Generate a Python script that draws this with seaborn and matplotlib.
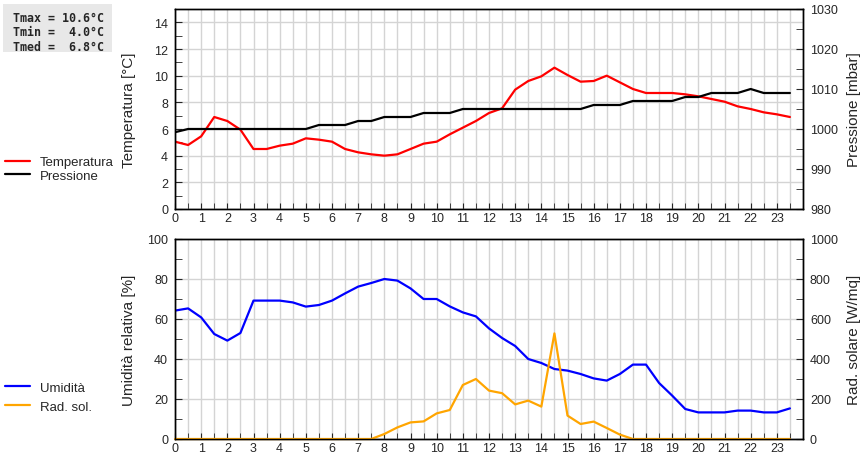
import numpy as np
import pandas as pd
import matplotlib
matplotlib.use('Agg')
import matplotlib.pyplot as plt
from matplotlib.ticker import MultipleLocator
from matplotlib.patches import Rectangle
import seaborn as sns

# half-hourly readings
hours = np.arange(0, 24, 0.5)

temperatura = [5.05, 4.8, 5.45, 6.9, 6.6, 5.95, 4.5, 4.5, 4.75, 4.9,
               5.3, 5.2, 5.05, 4.5, 4.25, 4.1, 4.0, 4.1, 4.5, 4.9,
               5.05, 5.6, 6.1, 6.6, 7.2, 7.55, 8.95, 9.6, 9.95, 10.6,
               10.05, 9.55, 9.6, 10.0, 9.5, 9.0, 8.7, 8.7, 8.7, 8.6,
               8.45, 8.25, 8.05, 7.7, 7.5, 7.25, 7.1, 6.9]

pressione = [999.2, 1000, 1000, 1000, 1000, 1000, 1000, 1000, 1000, 1000,
             1000, 1001, 1001, 1001, 1002, 1002, 1003, 1003, 1003, 1004,
             1004, 1004, 1005, 1005, 1005, 1005, 1005, 1005, 1005, 1005,
             1005, 1005, 1006, 1006, 1006, 1007, 1007, 1007, 1007, 1008,
             1008, 1009, 1009, 1009, 1010, 1009, 1009, 1009]

umidita = [64.2, 65.3, 60.8, 52.5, 49.2, 53, 69.2, 69.2, 69.2, 68.3,
           66.2, 67, 69.2, 72.8, 76.2, 78, 80, 79.2, 75.3, 70,
           70, 66.3, 63.3, 61.3, 55.3, 50.5, 46.5, 40, 38, 35,
           34.2, 32.5, 30.3, 29.2, 32.5, 37.2, 37.2, 28, 21.7, 15,
           13.3, 13.3, 13.3, 14.2, 14.2, 13.3, 13.3, 15.3]

radiazione = [0, 0, 0, 0, 0, 0, 0, 0, 0, 0, 0, 0, 0, 0, 0, 0,
              25, 58, 83, 88, 128, 145, 270, 300, 242, 229,
              173, 192, 162, 528, 117, 75, 87, 55, 22, 0,
              0, 0, 0, 0, 0, 0, 0, 0, 0, 0, 0, 0]

stats_text = "Tmax = 10.6°C\nTmin =  4.0°C\nTmed =  6.8°C"

sns.set_style("white")
plt.rcParams['font.family'] = ['Liberation Sans', 'DejaVu Sans']

fig = plt.figure(figsize=(8.6, 4.6), dpi=100)
ax1 = fig.add_axes([175/860, 1 - 210/460, 628/860, 200/460])
ax2 = fig.add_axes([175/860, 1 - 440/460, 628/860, 200/460])
tw1 = ax1.twinx()
tw2 = ax2.twinx()

grid_col = '#d4d4d4'


def style_axes(ax, tw, ylim, ymaj, ymin, tlim, tmaj, tmin, lab_l, lab_r):
    ax.set_xlim(0, 24)
    ax.set_ylim(*ylim)
    tw.set_ylim(*tlim)
    ax.set_xticks(np.arange(0, 24, 1))
    ax.xaxis.set_minor_locator(MultipleLocator(0.5))
    ax.yaxis.set_major_locator(MultipleLocator(ymaj))
    ax.yaxis.set_minor_locator(MultipleLocator(ymin))
    tw.yaxis.set_major_locator(MultipleLocator(tmaj))
    tw.yaxis.set_minor_locator(MultipleLocator(tmin))
    ax.set_axisbelow(True)
    ax.grid(True, which='both', axis='x', color=grid_col, linewidth=1)
    ax.grid(True, which='major', axis='y', color=grid_col, linewidth=1)
    tw.grid(False)
    ax.tick_params(axis='x', which='both', direction='in', length=4,
                   labelsize=9, pad=2, bottom=True, top=False)
    ax.tick_params(axis='y', which='both', direction='in', length=5,
                   labelsize=9, pad=5, left=True, right=False)
    tw.tick_params(axis='y', which='both', direction='in', length=5,
                   labelsize=9, pad=5, right=True, left=False)
    for a in (ax, tw):
        for s in a.spines.values():
            s.set_color('black')
            s.set_linewidth(1)
    ax.set_xlabel('')
    ax.set_ylabel(lab_l, fontsize=11)
    tw.set_ylabel(lab_r, fontsize=11)
    ax.yaxis.set_label_coords(-0.062, 0.5)
    tw.yaxis.set_label_coords(1.07, 0.5)


# top panel: temperature and pressure
sns.lineplot(x=hours, y=temperatura, ax=ax1, color='#ff0000', linewidth=1.6,
             label='Temperatura', legend=False)
sns.lineplot(x=hours, y=pressione, ax=tw1, color='black', linewidth=1.6,
             label='Pressione', legend=False)
style_axes(ax1, tw1, (0, 15), 2, 1, (980, 1030), 10, 5,
           'Temperatura [°C]', 'Pressione [mbar]')

# bottom panel: humidity and solar radiation
sns.lineplot(x=hours, y=umidita, ax=ax2, color='#0000ff', linewidth=1.6,
             label='Umidità', legend=False)
sns.lineplot(x=hours, y=radiazione, ax=tw2, color='#ffa500',
             linewidth=1.6, label='Rad. sol.', legend=False)
for ln in tw2.get_lines():
    ln.set_clip_on(False)
style_axes(ax2, tw2, (0, 100), 20, 10, (0, 1000), 200, 100,
           'Umidità relativa [%]', 'Rad. solare [W/mq]')

# legends on the left margin
h1, l1 = ax1.get_legend_handles_labels()
h2, l2 = tw1.get_legend_handles_labels()
fig.legend(h1 + h2, l1 + l2, loc='center left',
           bbox_to_anchor=(5/860, 1 - 170/460), frameon=False, fontsize=9.5,
           handlelength=1.9, handletextpad=0.75, labelspacing=0.1,
           borderaxespad=0, borderpad=0)
h3, l3 = ax2.get_legend_handles_labels()
h4, l4 = tw2.get_legend_handles_labels()
fig.legend(h3 + h4, l3 + l4, loc='center left',
           bbox_to_anchor=(5/860, 1 - 398/460), frameon=False, fontsize=9.5,
           handlelength=1.9, handletextpad=0.75, labelspacing=0.5,
           borderaxespad=0, borderpad=0)

# stats box
fig.patches.append(Rectangle((3/860, 1 - 53/460), 109/860, 48/460,
                             transform=fig.transFigure, facecolor='#e8e8e8',
                             edgecolor='none', zorder=0))
fig.text(13/860, 1 - 12/460, stats_text, ha='left', va='top',
         family='DejaVu Sans Mono', fontweight='bold', fontsize=8.4,
         linespacing=1.15)

fig.savefig('out.png', dpi=100)
